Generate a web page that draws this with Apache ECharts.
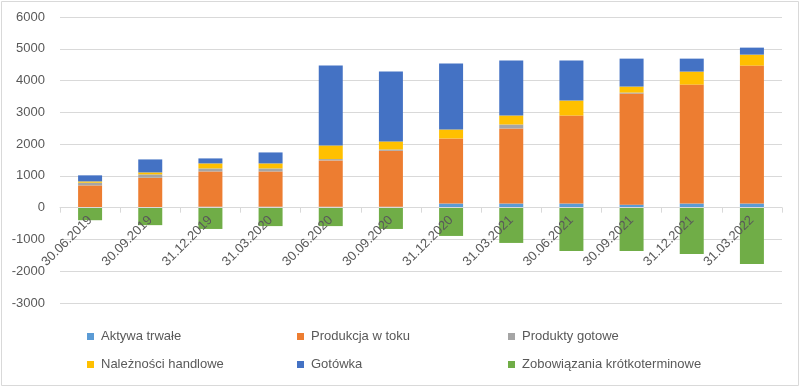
<!DOCTYPE html>
<html>
<head>
<meta charset="utf-8">
<script src="https://cdn.jsdelivr.net/npm/echarts@6/dist/echarts.min.js"></script>
<style>
html,body{margin:0;padding:0;background:#fff;}
#c{width:801px;height:387px;}
</style>
</head>
<body>
<div id="c"></div>
<script>
const categories = ['30.06.2019','30.09.2019','31.12.2019','31.03.2020','30.06.2020','30.09.2020','31.12.2020','31.03.2021','30.06.2021','30.09.2021','31.12.2021','31.03.2022'];
const aktywaTrwale = [5, 5, 30, 30, 30, 30, 130, 130, 130, 95, 130, 130];
const produkcjaWToku = [695, 937, 1110, 1110, 1457, 1760, 2048, 2362, 2770, 3496, 3744, 4341];
const produktyGotowe = [85, 105, 95, 95, 42, 42, 0, 126, 0, 32, 0, 0];
const naleznosciHandlowe = [42, 63, 158, 158, 429, 252, 282, 282, 471, 188, 408, 345];
const gotowka = [190, 408, 157, 345, 2513, 2198, 2074, 1728, 1257, 879, 408, 220];
const zobowiazania = [-395, -550, -670, -580, -580, -670, -890, -1110, -1360, -1360, -1455, -1770];
const yTicks = {min: -3000, max: 6000, interval: 1000};

const names = ['Aktywa trwałe','Produkcja w toku','Produkty gotowe','Należności handlowe','Gotówka','Zobowiązania krótkoterminowe'];
const colors = ['#5B9BD5','#ED7D31','#A5A5A5','#FFC000','#4472C4','#70AD47'];
const datas = [aktywaTrwale, produkcjaWToku, produktyGotowe, naleznosciHandlowe, gotowka, zobowiazania];

const font = 'Liberation Sans, Arial, sans-serif';
const chart = echarts.init(document.getElementById('c'));
const legendText = {color:'#595959', fontSize:13, fontFamily:font, padding:[0,0,0,2]};
const legX = [87, 297, 508];
const legY = [325, 353];
chart.setOption({
  animation:false,
  color: colors,
  graphic:[{type:'rect', shape:{x:1.5,y:1.5,width:797,height:384}, style:{fill:null, stroke:'#d9d9d9', lineWidth:1}, silent:true}],
  legend: names.map((n,i)=>({
    data:[n], left:legX[i%3], top:legY[Math.floor(i/3)], itemWidth:7, itemHeight:7, itemGap:0,
    icon:'rect', textStyle:legendText, padding:[5,5,5,0]
  })),
  grid:{left:60, right:19, top:17, bottom:84, containLabel:false},
  xAxis:{
    type:'category', data:categories, z:10,
    axisLine:{onZero:true, lineStyle:{color:'#d9d9d9', width:1}},
    axisTick:{show:true, length:5, lineStyle:{color:'#d9d9d9'}},
    axisLabel:{rotate:45, color:'#595959', fontSize:13, fontFamily:font, margin:-85, interval:0}
  },
  yAxis:{
    type:'value', min:yTicks.min, max:yTicks.max, interval:yTicks.interval,
    axisLine:{show:false}, axisTick:{show:false},
    splitLine:{lineStyle:{color:'#d9d9d9', width:1}},
    axisLabel:{color:'#595959', fontSize:13, fontFamily:font, margin:15, formatter:(v)=>String(v)}
  },
  series: names.map((n,i)=>({
    name:n, type:'bar', stack:'total', barWidth:24, data:datas[i], z:2,
    itemStyle:{color:colors[i]}
  }))
});
</script>
</body>
</html>
